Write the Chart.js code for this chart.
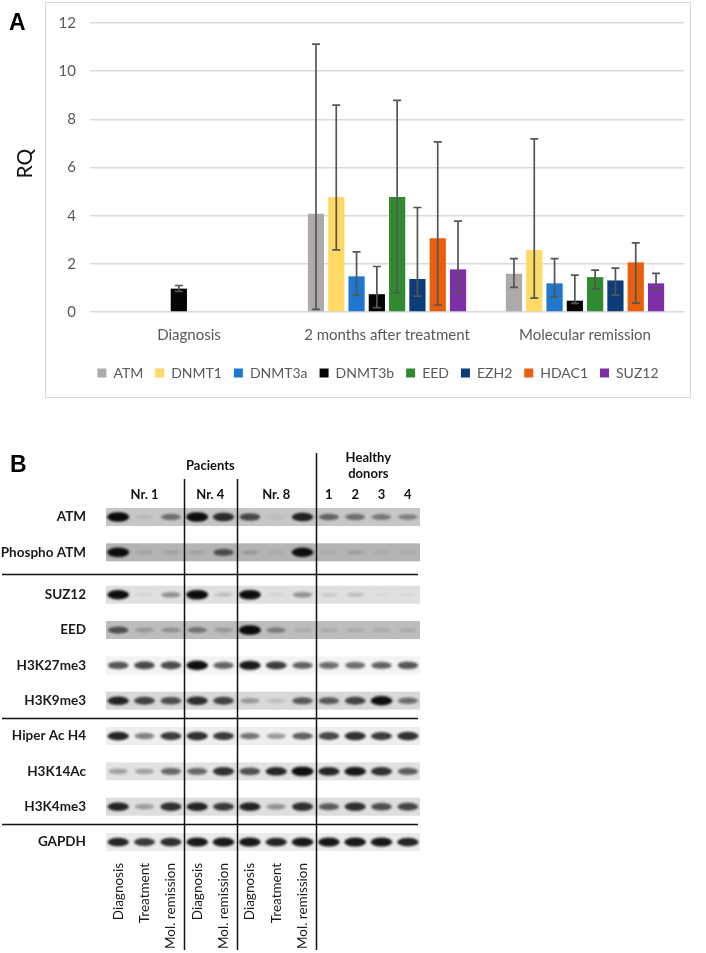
<!DOCTYPE html>
<html>
<head>
<meta charset="utf-8">
<script src="https://cdn.jsdelivr.net/npm/chart.js@4.4.0/dist/chart.umd.min.js"></script>
<style>
  body { margin: 0; background: #fff; width: 706px; height: 953px; position: relative; overflow: hidden; }
  #wrapA { position: absolute; left: 0; top: 0; width: 706px; height: 405px; }
  #wrapB { position: absolute; left: 0; top: 420px; width: 706px; height: 533px; }
</style>
</head>
<body>
<div id="wrapA"><canvas id="chartA" width="706" height="405"></canvas></div>
<div id="wrapB"><canvas id="chartB" width="706" height="533"></canvas></div>
<script>
// panel A: RQ per time point, one series per gene
const timepoints = ['Diagnosis', '2 months after treatment', 'Molecular remission'];
const genes = ['ATM', 'DNMT1', 'DNMT3a', 'DNMT3b', 'EED', 'EZH2', 'HDAC1', 'SUZ12'];
const geneColors = ['#afaaaa', '#ffd966', '#1f77d0', '#050505', '#2f8a30', '#0b3d7a', '#e8600c', '#7e2fa8'];

// mean RQ, one row per gene (diagnosis, 2 months, remission)
const rqValues = [
  [null, 4.08, 1.59],
  [null, 4.77, 2.57],
  [null, 1.48, 1.19],
  [0.97, 0.74, 0.47],
  [null, 4.77, 1.45],
  [null, 1.37, 1.31],
  [null, 3.06, 2.06],
  [null, 1.77, 1.19]
];
// error bar ends
const errLow = [
  [null, 0.11, 1.02],
  [null, 2.58, 0.58],
  [null, 0.69, 0.62],
  [0.86, 0.18, 0.36],
  [null, 0.80, 0.95],
  [null, 0.66, 0.70],
  [null, 0.29, 0.37],
  [null, 0.80, 0.94]
];
const errHigh = [
  [null, 11.12, 2.22],
  [null, 8.59, 7.19],
  [null, 2.50, 2.22],
  [1.10, 1.89, 1.53],
  [null, 8.79, 1.74],
  [null, 4.34, 1.82],
  [null, 7.06, 2.87],
  [null, 3.77, 1.60]
];
const rqTicks = [0, 2, 4, 6, 8, 10, 12];

// panel B: western blot, bands by row and lane
const rowSections = [
  ['ATM', 'Phospho ATM'],
  ['SUZ12', 'EED', 'H3K27me3', 'H3K9me3'],
  ['Hiper Ac H4', 'H3K14Ac', 'H3K4me3'],
  ['GAPDH']
];
const patientGroups = ['Nr. 1', 'Nr. 4', 'Nr. 8'];
const patientLanes = [
  ['Diagnosis', 'Treatment', 'Mol. remission'],
  ['Diagnosis', 'Mol. remission'],
  ['Diagnosis', 'Treatment', 'Mol. remission']
];
const donorLanes = ['1', '2', '3', '4'];

// band darkness 0..1, lanes: N1 D/T/M, N4 D/M, N8 D/T/M, donors 1-4
const bandIntensity = [
  [1.00, 0.08, 0.45, 1.00, 0.80, 0.65, 0.04, 0.85, 0.50, 0.45, 0.40, 0.35],
  [1.00, 0.10, 0.10, 0.10, 0.60, 0.15, 0.05, 0.95, 0.05, 0.12, 0.05, 0.05],
  [0.95, 0.04, 0.35, 1.00, 0.15, 1.00, 0.05, 0.35, 0.10, 0.15, 0.03, 0.03],
  [0.60, 0.20, 0.25, 0.40, 0.20, 1.00, 0.35, 0.10, 0.10, 0.10, 0.10, 0.10],
  [0.65, 0.70, 0.70, 0.95, 0.60, 0.90, 0.75, 0.60, 0.55, 0.55, 0.60, 0.65],
  [0.85, 0.70, 0.65, 0.80, 0.70, 0.30, 0.12, 0.60, 0.60, 0.70, 0.95, 0.50],
  [0.85, 0.45, 0.75, 0.80, 0.75, 0.50, 0.35, 0.60, 0.70, 0.80, 0.75, 0.80],
  [0.30, 0.30, 0.55, 0.55, 0.80, 0.65, 0.85, 1.00, 0.85, 0.90, 0.80, 0.60],
  [0.85, 0.30, 0.80, 0.85, 0.75, 0.85, 0.35, 0.80, 0.60, 0.80, 0.65, 0.70],
  [0.85, 0.75, 0.80, 0.90, 0.90, 0.90, 0.85, 0.90, 0.90, 0.90, 0.90, 0.85]
];
// membrane background grey per row
const stripShade = ['#c6c6c6', '#b4b4b4', '#e0e0e0', '#bdbdbd', '#f3f3f3', '#d8d8d8', '#eeeeee', '#e2e2e2', '#dedede', '#ebebeb'];

const blotRows = rowSections.flat();
// the first section sits a bit apart from the rest
const rowPos = [];
rowSections.forEach((sec, k) => sec.forEach(() => rowPos.push(rowPos.length + (k > 0 ? 0.2 : 0))));
const bottomLanes = patientLanes.flat().concat(donorLanes.map(() => ''));
const laneCount = bottomLanes.length;

// ---------- chart A ----------
const frameA = {
  id: 'frameA',
  afterLayout(chart) {
    // legend sits a little left of the plot centre in the original
    chart.legend.left -= 9;
    chart.legend.right -= 9;
  },
  beforeDraw(chart) {
    const ctx = chart.ctx;
    ctx.save();
    ctx.strokeStyle = '#d9d9d9';
    ctx.lineWidth = 1.2;
    ctx.strokeRect(45.5, 2.5, 645, 395);
    ctx.fillStyle = '#000';
    ctx.font = 'bold 23px "Liberation Sans"';
    ctx.textBaseline = 'middle';
    ctx.fillText('A', 9, 24);
    // axis title
    const area = chart.chartArea;
    ctx.translate(25, (area.top + area.bottom) / 2 - 4);
    ctx.rotate(-Math.PI / 2);
    ctx.textAlign = 'center';
    ctx.fillStyle = '#111';
    ctx.font = '21px Lato';
    ctx.fillText('RQ', 0, 0);
    ctx.restore();
  }
};

const errorBars = {
  id: 'errorBars',
  afterDatasetsDraw(chart) {
    const ctx = chart.ctx;
    const y = chart.scales.y;
    ctx.save();
    ctx.strokeStyle = '#555';
    ctx.lineWidth = 1.7;
    chart.data.datasets.forEach((ds, i) => {
      chart.getDatasetMeta(i).data.forEach((bar, j) => {
        if (ds.data[j] == null) return;
        const top = y.getPixelForValue(errHigh[i][j]);
        const bot = y.getPixelForValue(errLow[i][j]);
        ctx.beginPath();
        ctx.moveTo(bar.x, top); ctx.lineTo(bar.x, bot);
        ctx.moveTo(bar.x - 4, top); ctx.lineTo(bar.x + 4, top);
        ctx.moveTo(bar.x - 4, bot); ctx.lineTo(bar.x + 4, bot);
        ctx.stroke();
      });
    });
    ctx.restore();
  }
};

new Chart(document.getElementById('chartA'), {
  type: 'bar',
  data: {
    labels: timepoints,
    datasets: genes.map((g, i) => ({
      label: g,
      data: rqValues[i],
      backgroundColor: geneColors[i],
      categoryPercentage: 0.82,
      barPercentage: 0.8
    }))
  },
  options: {
    responsive: false,
    animation: false,
    events: [],
    layout: { padding: { top: 22, right: 22, left: 0, bottom: 15 } },
    plugins: {
      legend: {
        position: 'bottom',
        fullSize: false,
        labels: {
          boxWidth: 9, boxHeight: 9, padding: 12,
          color: '#595959',
          font: { family: 'Lato', size: 14 }
        }
      },
      tooltip: { enabled: false }
    },
    scales: {
      x: {
        grid: { display: false },
        border: { display: false },
        ticks: { color: '#595959', font: { family: 'Lato', size: 15 }, padding: 6 },
        afterFit: s => { s.height = 42; }
      },
      y: {
        min: 0, max: 12,
        afterBuildTicks: s => { s.ticks = rqTicks.map(v => ({ value: v })); },
        grid: { color: '#d9d9d9', lineWidth: 1.5, drawTicks: false },
        border: { display: false },
        ticks: { color: '#595959', font: { family: 'Lato', size: 15 }, padding: 14 },
        afterFit: s => { s.width = 90; }
      }
    }
  },
  plugins: [frameA, errorBars]
});

// ---------- chart B ----------
const bandCache = {};
function bandImage(v) {
  const key = Math.round(v * 40);
  if (bandCache[key]) return bandCache[key];
  const c = document.createElement('canvas');
  c.width = 36; c.height = 24;
  const g = c.getContext('2d');
  g.filter = 'blur(1.2px)';
  g.fillStyle = 'rgba(12,12,12,' + Math.min(1, v * 1.05).toFixed(3) + ')';
  g.beginPath();
  g.ellipse(18, 12, 9 + 2 * v, 1.8 + 3 * v, 0, 0, Math.PI * 2);
  g.fill();
  bandCache[key] = c;
  return c;
}

const bandPoints = [];
bandIntensity.forEach((row, r) => row.forEach((v, l) => bandPoints.push({ x: l, y: rowPos[r], v: v })));

const blotFrame = {
  id: 'blotFrame',
  beforeDatasetsDraw(chart) {
    const { ctx, chartArea, scales: { y } } = chart;
    ctx.save();
    blotRows.forEach((name, r) => {
      const yc = y.getPixelForValue(rowPos[r]);
      ctx.fillStyle = stripShade[r];
      ctx.fillRect(chartArea.left + 1, yc - 9, chartArea.right - chartArea.left - 2, 18);
    });
    ctx.restore();
  },
  afterDatasetsDraw(chart) {
    const { ctx, chartArea, scales: { x, y } } = chart;
    ctx.save();
    ctx.strokeStyle = '#111';
    ctx.lineWidth = 1.5;
    // row section separators, halfway between neighbouring rows
    let idx = 0;
    rowSections.slice(0, -1).forEach(sec => {
      idx += sec.length;
      const mid = (rowPos[idx - 1] + rowPos[idx]) / 2;
      const yy = Math.round(y.getPixelForValue(mid)) + 0.5;
      ctx.beginPath(); ctx.moveTo(2, yy); ctx.lineTo(chartArea.right - 3, yy); ctx.stroke();
    });
    // lane group dividers
    let lane = 0;
    patientLanes.forEach((lanes, gi) => {
      lane += lanes.length;
      const xx = Math.round(x.getPixelForValue(lane - 0.5)) + 0.5;
      const top = gi === patientLanes.length - 1 ? 33 : chartArea.top - 1;
      ctx.beginPath(); ctx.moveTo(xx, top); ctx.lineTo(xx, 530); ctx.stroke();
    });
    // headers
    ctx.fillStyle = '#111';
    ctx.textAlign = 'center';
    ctx.textBaseline = 'middle';
    ctx.font = 'bold 13px Lato';
    const labelY = y.getPixelForValue(-0.63);
    lane = 0;
    patientLanes.forEach((lanes, gi) => {
      const mid = x.getPixelForValue(lane + (lanes.length - 1) / 2);
      ctx.fillText(patientGroups[gi], mid, labelY);
      lane += lanes.length;
    });
    donorLanes.forEach((d, k) => ctx.fillText(d, x.getPixelForValue(lane + k), labelY));
    ctx.fillText('Pacients', x.getPixelForValue((lane - 1) / 2), 46);
    const donorMid = x.getPixelForValue(lane + (donorLanes.length - 1) / 2);
    ctx.fillText('Healthy', donorMid, 38);
    ctx.fillText('donors', donorMid, 54);
    ctx.textAlign = 'left';
    ctx.fillStyle = '#000';
    ctx.font = 'bold 23px "Liberation Sans"';
    ctx.fillText('B', 10, 46);
    ctx.restore();
  }
};

new Chart(document.getElementById('chartB'), {
  type: 'scatter',
  data: {
    datasets: [{
      data: bandPoints,
      pointStyle: ctx => bandImage(ctx.raw ? ctx.raw.v : 0),
      pointRadius: 3
    }]
  },
  options: {
    responsive: false,
    animation: false,
    events: [],
    layout: { padding: { top: 60, right: 285, left: 0, bottom: 0 } },
    plugins: { legend: { display: false }, tooltip: { enabled: false } },
    scales: {
      x: {
        type: 'linear',
        min: -0.5, max: laneCount - 0.5,
        afterBuildTicks: s => { s.ticks = bottomLanes.map((_, i) => ({ value: i })); },
        grid: { display: false },
        border: { display: false },
        ticks: {
          autoSkip: false, minRotation: 90, maxRotation: 90,
          color: '#1a1a1a', font: { family: 'Lato', size: 13.5 }, padding: 3,
          callback: (v, i) => bottomLanes[i]
        },
        afterFit: s => { s.height = 101; }
      },
      y: {
        type: 'linear',
        reverse: true,
        min: -1.047, max: rowPos[rowPos.length - 1] + 0.283,
        afterBuildTicks: s => { s.ticks = rowPos.map(p => ({ value: p })); },
        grid: { display: false },
        border: { display: false },
        ticks: {
          autoSkip: false,
          color: '#1a1a1a', font: { family: 'Lato', size: 13.5, weight: 'bold' }, padding: 11,
          callback: (v, i) => blotRows[i]
        },
        afterFit: s => { s.width = 105; }
      }
    }
  },
  plugins: [blotFrame]
});
</script>
</body>
</html>
